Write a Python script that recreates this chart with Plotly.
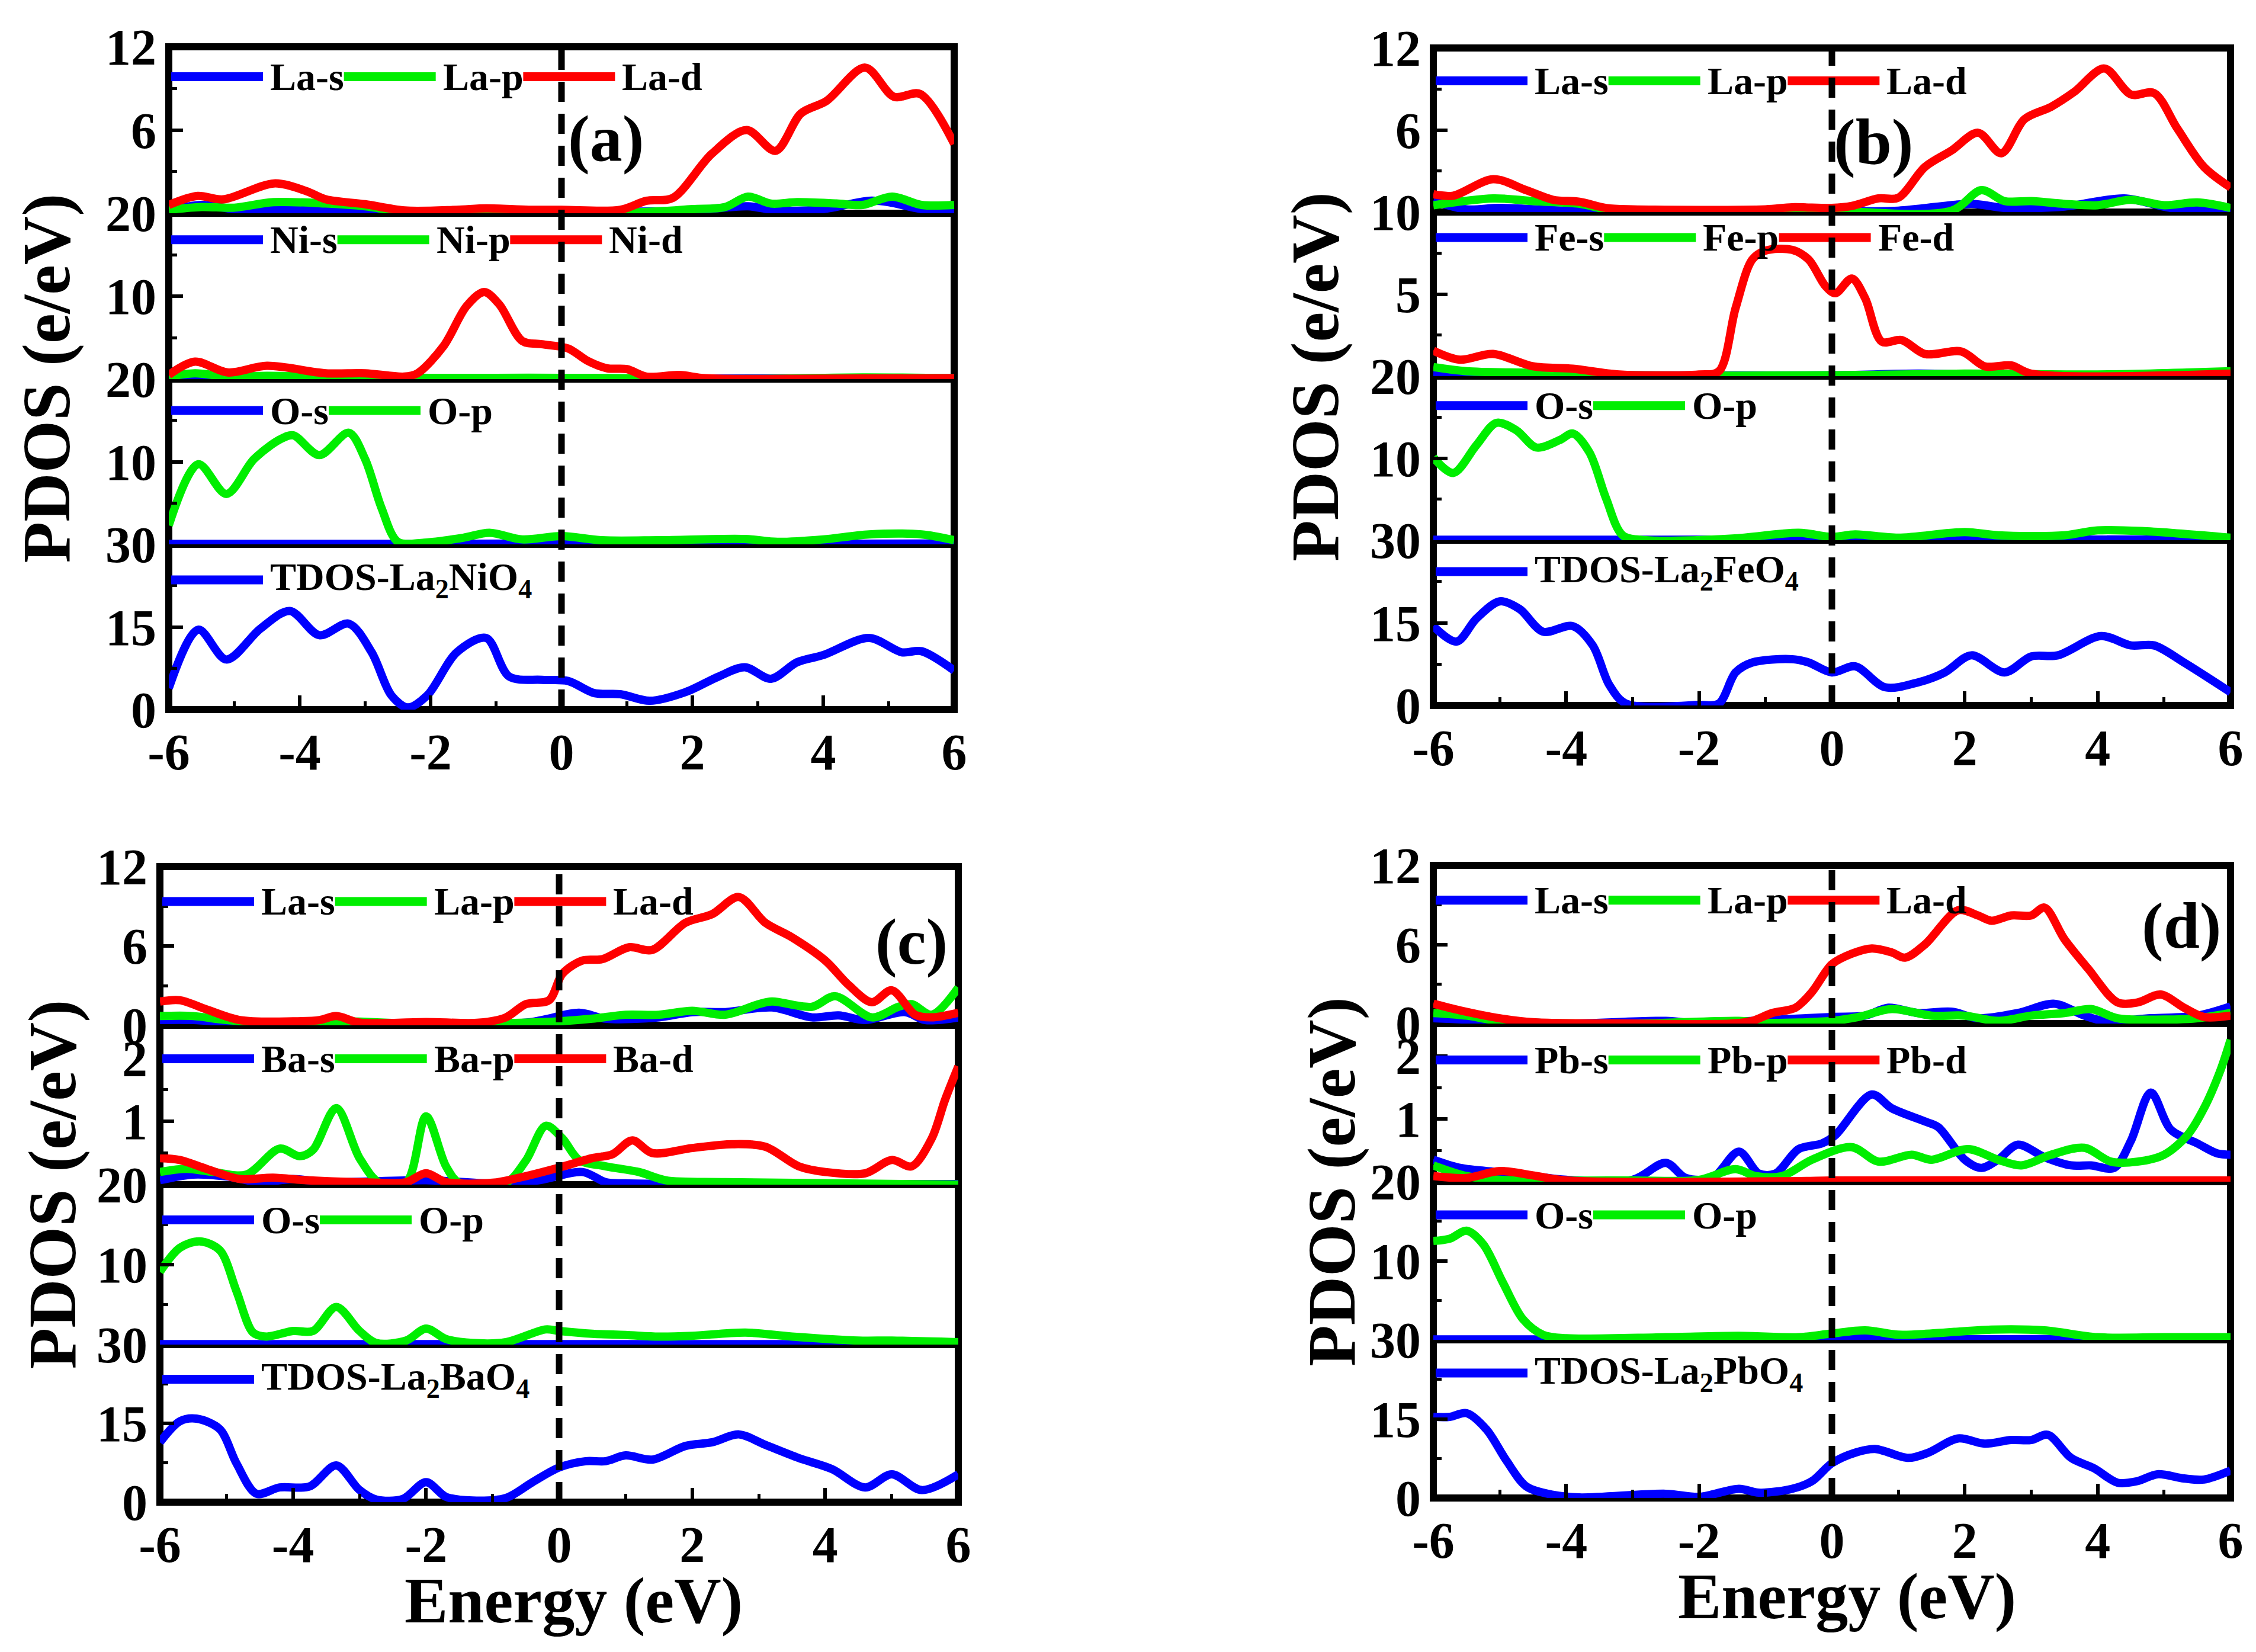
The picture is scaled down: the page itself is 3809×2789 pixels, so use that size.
import plotly.graph_objects as go

W, H = 3809, 2789
BLUE, GREEN, RED = "#0000FF", "#00EE00", "#FF0000"
FONT = "Liberation Serif"

X_TICKS = [-6, -4, -2, 0, 2, 4, 6]
X_MINOR = [-5, -3, -1, 1, 3, 5]

# ---------------- Panel (a) La2NiO4 ----------------
A_LA_S_X = [-6, -5.5, -5, -4.4, -3.5, -3, -2, 0, 1, 2, 2.85, 3.3, 4, 4.7, 5.0, 5.5, 6]
A_LA_S_Y = [0.2, 0.6, 0.3, 0.3, 0.2, 0.1, 0.05, 0.05, 0.1, 0.2, 0.5, 0.2, 0.3, 0.9, 0.8, 0.3, 0.2]
A_LA_P_X = [-6, -5.5, -5, -4.4, -3.6, -3.0, -2.4, -1, 0, 1.3, 2.0, 2.5, 2.85, 3.2, 3.6, 4.2, 4.6, 5.05, 5.5, 6]
A_LA_P_Y = [0.25, 0.45, 0.4, 0.8, 0.7, 0.5, 0.1, 0.05, 0.05, 0.1, 0.3, 0.45, 1.2, 0.7, 0.8, 0.7, 0.6, 1.2, 0.6, 0.6]
A_LA_D_X = [-6, -5.56, -5.17, -4.39, -3.9, -3.6, -3.0, -2.4, -1.6, -1.15, -0.5, 0, 0.9, 1.3, 1.7, 2.3, 2.83, 3.27, 3.66, 4.05, 4.64, 5.08, 5.48, 6]
A_LA_D_Y = [0.6, 1.25, 1.0, 2.15, 1.6, 1.0, 0.65, 0.2, 0.25, 0.35, 0.25, 0.25, 0.25, 0.9, 1.1, 4.3, 6.0, 4.5, 7.2, 8.1, 10.5, 8.4, 8.6, 5.0]
A_NI_S_X = [-6, -4, -2, 0, 2, 4, 6]
A_NI_S_Y = [0.1, 0.1, 0.05, 0.1, 0.05, 0.1, 0.1]
A_NI_P_X = [-6, -5.6, -5.1, -4.5, -3, -2, -1, 0, 1, 1.3, 3, 4.6, 6]
A_NI_P_Y = [0.3, 0.7, 0.3, 0.4, 0.2, 0.15, 0.15, 0.15, 0.1, 0.02, 0.02, 0.2, 0.1]
A_NI_D_X = [-6, -5.6, -5.1, -4.5, -3.6, -3.0, -2.4, -2.2, -1.8, -1.45, -1.18, -0.95, -0.6, -0.3, 0.1, 0.4, 0.7, 1.0, 1.3, 1.8, 2.2, 4, 6]
A_NI_D_Y = [0.5, 2.1, 0.8, 1.6, 0.7, 0.7, 0.3, 0.7, 4.0, 8.8, 10.5, 9.0, 4.6, 4.2, 3.7, 2.2, 1.3, 1.2, 0.3, 0.5, 0.1, 0.05, 0.1]
A_O_S_X = [-6, -3, 0, 3, 6]
A_O_S_Y = [0.05, 0.05, 0.1, 0.05, 0.1]
A_O_P_X = [-6, -5.55, -5.12, -4.7, -4.3, -4.1, -3.7, -3.25, -3.0, -2.75, -2.5, -2.1, -1.5, -1.1, -0.6, 0, 0.6, 1.5, 2.8, 3.3, 4.0, 4.7, 5.5, 6]
A_O_P_Y = [2.3, 9.7, 6.1, 10.3, 12.7, 13.2, 10.8, 13.5, 10.3, 4.4, 0.3, 0.2, 0.8, 1.4, 0.6, 1.0, 0.5, 0.5, 0.65, 0.3, 0.6, 1.2, 1.2, 0.5]
A_TDOS_X = [-6, -5.55, -5.12, -4.6, -4.15, -3.7, -3.25, -2.9, -2.6, -2.35, -2.05, -1.6, -1.15, -0.8, -0.3, 0.1, 0.5, 0.9, 1.35, 1.9, 2.4, 2.8, 3.2, 3.6, 4.0, 4.7, 5.2, 5.5, 6]
A_TDOS_Y = [3.9, 14.5, 9.1, 14.7, 17.9, 13.5, 15.6, 10.4, 2.6, 0.4, 2.6, 10.4, 13.0, 6.0, 5.4, 5.2, 3.0, 2.8, 1.6, 3.2, 6.0, 7.7, 5.6, 8.6, 9.9, 13.0, 10.4, 10.6, 7.1]

# ---------------- Panel (b) La2FeO4 ----------------
B_LA_S_X = [-6, -5.5, -5, -4, -3, -1, 0, 1, 2.1, 2.6, 3.5, 4.4, 5.1, 5.6, 6]
B_LA_S_Y = [0.8, 0.2, 0.3, 0.1, 0.05, 0.05, 0.05, 0.1, 0.6, 0.3, 0.4, 1.0, 0.3, 0.3, 0.1]
B_LA_P_X = [-6, -5.1, -4.5, -3.8, -3.4, -3, 0, 1.8, 2.25, 2.6, 3.0, 3.5, 4.0, 4.5, 5.0, 5.5, 6]
B_LA_P_Y = [0.5, 1.0, 0.8, 0.6, 0.2, 0.05, 0.05, 0.1, 1.6, 0.8, 0.8, 0.6, 0.5, 0.9, 0.5, 0.7, 0.3]
B_LA_D_X = [-6, -5.7, -5.1, -4.6, -4.2, -3.8, -3.4, -3.0, -1.0, -0.6, 0, 0.3, 0.7, 1.0, 1.4, 1.8, 2.2, 2.55, 2.9, 3.3, 3.65, 4.1, 4.5, 4.85, 5.2, 5.6, 6]
B_LA_D_Y = [1.3, 1.2, 2.4, 1.6, 0.9, 0.75, 0.3, 0.2, 0.2, 0.35, 0.3, 0.45, 1.0, 1.05, 3.3, 4.5, 5.8, 4.3, 6.8, 7.7, 8.8, 10.5, 8.6, 8.7, 6.1, 3.3, 1.8]
B_FE_S_X = [-6, -5, -3, 0, 1.3, 3, 6]
B_FE_S_Y = [0.2, 0.05, 0.05, 0.05, 0.15, 0.05, 0.05]
B_FE_P_X = [-6, -5.5, -4.5, -3, 0, 2, 4, 6]
B_FE_P_Y = [0.55, 0.3, 0.2, 0.05, 0.05, 0.15, 0.1, 0.3]
B_FE_D_X = [-6, -5.6, -5.1, -4.5, -3.9, -3.2, -2.0, -1.7, -1.45, -1.2, -1.0, -0.6, -0.35, -0.1, 0.05, 0.3, 0.5, 0.75, 1.05, 1.4, 1.95, 2.3, 2.7, 3.0, 6.0]
B_FE_D_Y = [1.55, 1.0, 1.35, 0.6, 0.45, 0.1, 0.1, 0.3, 4.15, 7.1, 7.65, 7.7, 7.1, 5.5, 5.05, 5.95, 4.75, 2.1, 2.2, 1.35, 1.5, 0.6, 0.65, 0.15, 0.15]
B_O_S_X = [-6, -3, 0, 3, 6]
B_O_S_Y = [0.05, 0.05, 0.1, 0.1, 0.05]
B_O_P_X = [-6, -5.7, -5.35, -5.05, -4.75, -4.45, -4.1, -3.9, -3.65, -3.4, -3.15, -2.8, -1.5, -0.5, 0, 0.35, 1.0, 2.0, 2.5, 3.5, 4.0, 4.7, 6.0]
B_O_P_Y = [10.1, 8.2, 11.6, 14.3, 13.4, 11.3, 12.2, 13.0, 10.7, 5.1, 0.6, 0.0, 0.2, 0.9, 0.4, 0.7, 0.3, 1.0, 0.6, 0.6, 1.2, 1.1, 0.3]
B_TDOS_X = [-6, -5.65, -5.35, -5.0, -4.7, -4.35, -3.9, -3.6, -3.35, -3.1, -2.0, -1.7, -1.45, -1.2, -0.6, -0.35, 0, 0.35, 0.8, 1.3, 1.7, 2.1, 2.6, 3.0, 3.4, 4.05, 4.5, 4.85, 5.3, 6.0]
B_TDOS_Y = [14.4, 11.6, 15.8, 18.9, 17.5, 13.4, 14.4, 10.9, 3.7, 0.35, 0.1, 0.35, 6.0, 7.8, 8.4, 7.8, 6.0, 7.1, 3.3, 4.2, 6.0, 9.1, 6.0, 8.9, 9.1, 12.6, 10.9, 10.9, 7.8, 2.4]

# ---------------- Panel (c) La2BaO4 ----------------
C_LA_S_X = [-6, -5.5, -4.5, -0.5, 0.3, 0.7, 1.5, 2.0, 2.5, 3.2, 3.8, 4.2, 4.6, 5.2, 5.5, 6.0]
C_LA_S_Y = [0.4, 0.4, 0.1, 0.2, 0.95, 0.5, 0.6, 1.0, 1.0, 1.35, 0.6, 0.75, 0.4, 1.0, 0.4, 0.6]
C_LA_P_X = [-6, -5.5, -5.0, -4.0, -3.3, -2, -0.5, 0, 0.5, 1.0, 1.5, 2.0, 2.5, 3.0, 3.2, 3.8, 4.15, 4.7, 5.1, 5.3, 5.6, 6.0]
C_LA_P_Y = [0.7, 0.7, 0.4, 0.1, 0.3, 0.1, 0.2, 0.3, 0.5, 0.8, 0.8, 1.1, 0.8, 1.6, 1.8, 1.4, 2.2, 0.6, 1.4, 1.6, 0.8, 2.85]
C_LA_D_X = [-6, -5.7, -5.3, -4.8, -4.0, -3.6, -3.35, -3.0, -2.0, -1.2, -0.8, -0.5, -0.15, 0.05, 0.35, 0.65, 1.05, 1.4, 1.9, 2.3, 2.7, 3.1, 3.5, 4.0, 4.35, 4.7, 5.0, 5.35, 5.6, 6.0]
C_LA_D_Y = [1.8, 1.9, 1.2, 0.4, 0.3, 0.4, 0.7, 0.2, 0.25, 0.2, 0.6, 1.6, 1.9, 3.9, 4.9, 5.0, 5.9, 5.7, 7.75, 8.4, 9.7, 7.75, 6.65, 4.9, 3.06, 1.75, 2.65, 0.8, 0.6, 0.95]
C_BA_S_X = [-6, -5.5, -5.0, -4.5, -4.0, -3.5, -2.0, -1.0, -0.3, 0.35, 0.7, 1.0, 6.0]
C_BA_S_Y = [0.07, 0.16, 0.13, 0.04, 0.09, 0.04, 0.07, 0.02, 0.07, 0.2, 0.04, 0.02, 0.01]
C_BA_P_X = [-6, -5.6, -5.2, -4.7, -4.2, -3.9, -3.7, -3.35, -3.0, -2.7, -2.3, -2.0, -1.7, -1.5, -0.8, -0.5, -0.2, 0.05, 0.3, 0.7, 1.2, 1.6, 2.5, 6.0]
C_BA_P_Y = [0.2, 0.25, 0.2, 0.16, 0.57, 0.45, 0.55, 1.21, 0.42, 0.03, 0.03, 1.08, 0.29, 0.03, 0.03, 0.38, 0.93, 0.73, 0.39, 0.29, 0.2, 0.07, 0.04, 0.0]
C_BA_D_X = [-6, -5.7, -5.3, -4.8, -4.3, -3.8, -3.0, -2.3, -2.0, -1.7, -1.0, -0.6, 0, 0.5, 0.8, 1.1, 1.4, 2.0, 2.6, 3.1, 3.6, 4.0, 4.6, 5.0, 5.3, 5.6, 5.8, 6.0]
C_BA_D_Y = [0.42, 0.39, 0.25, 0.09, 0.11, 0.07, 0.04, 0.04, 0.18, 0.04, 0.03, 0.11, 0.27, 0.42, 0.48, 0.7, 0.5, 0.58, 0.64, 0.6, 0.29, 0.2, 0.18, 0.39, 0.29, 0.73, 1.34, 1.87]
C_O_S_X = [-6, -3, 0, 3, 6]
C_O_S_Y = [0.05, 0.05, 0.05, 0.05, 0.05]
C_O_P_X = [-6, -5.7, -5.4, -5.1, -4.85, -4.6, -4.4, -4.0, -3.7, -3.35, -3.0, -2.75, -2.3, -2.0, -1.7, -1.3, -0.8, -0.2, 0, 0.5, 1.0, 1.5, 2.0, 2.8, 3.5, 4.5, 5.0, 6.0]
C_O_P_Y = [9.1, 12.1, 12.9, 11.8, 6.7, 1.5, 1.0, 1.7, 1.7, 4.7, 1.7, 0.2, 0.5, 2.0, 0.7, 0.2, 0.3, 1.9, 1.7, 1.35, 1.2, 1.0, 1.1, 1.5, 1.0, 0.5, 0.5, 0.3]
C_TDOS_X = [-6, -5.7, -5.45, -5.1, -4.85, -4.55, -4.2, -3.75, -3.35, -3.0, -2.75, -2.35, -2.0, -1.7, -1.3, -0.8, -0.4, 0.0, 0.4, 0.7, 1.0, 1.4, 1.9, 2.3, 2.7, 3.1, 3.6, 4.1, 4.6, 5.0, 5.45, 6.0]
C_TDOS_Y = [11.4, 15.4, 15.9, 13.9, 7.4, 1.6, 2.8, 3.0, 7.0, 2.3, 0.5, 0.6, 3.8, 1.0, 0.3, 0.8, 3.8, 6.6, 7.8, 7.8, 8.9, 8.1, 10.7, 11.4, 12.9, 10.9, 8.4, 6.3, 2.8, 5.3, 2.3, 5.3]

# ---------------- Panel (d) La2PbO4 ----------------
D_LA_S_X = [-6, -5, -4, -2.5, -2, -1.4, 0, 0.5, 0.85, 1.3, 1.8, 2.2, 2.8, 3.35, 3.8, 4.1, 4.8, 5.5, 6.0]
D_LA_S_Y = [0.4, 0.2, 0.0, 0.2, 0.0, 0.15, 0.5, 0.6, 1.2, 0.8, 0.9, 0.4, 0.8, 1.5, 0.6, 0.2, 0.4, 0.6, 1.3]
D_LA_P_X = [-6, -5.5, -5, -3, -1.4, -1, 0, 0.4, 0.9, 1.5, 2.0, 2.5, 3.0, 3.5, 3.9, 4.3, 5.0, 5.5, 6.0]
D_LA_P_Y = [0.8, 0.6, 0.2, 0.0, 0.2, 0.05, 0.2, 0.5, 1.1, 0.6, 0.6, 0.2, 0.6, 0.8, 1.1, 0.4, 0.3, 0.4, 0.8]
D_LA_D_X = [-6, -5.6, -5.0, -4.5, -3, -1.5, -1.2, -0.9, -0.55, -0.3, 0, 0.3, 0.6, 0.9, 1.1, 1.4, 1.9, 2.2, 2.4, 2.7, 3.0, 3.2, 3.5, 3.85, 4.3, 4.6, 4.95, 5.3, 5.6, 6.0]
D_LA_D_Y = [1.5, 1.0, 0.4, 0.1, 0.0, 0.0, 0.2, 0.8, 1.2, 2.4, 4.5, 5.3, 5.7, 5.4, 5.0, 6.0, 8.6, 8.2, 7.8, 8.2, 8.2, 8.8, 6.4, 4.2, 1.6, 1.6, 2.2, 1.2, 0.5, 0.6]
D_PB_S_X = [-6, -5.6, -5.0, -4.5, -4.0, -3.0, -2.5, -2.2, -1.8, -1.4, -1.1, -0.85, -0.5, -0.15, 0.05, 0.6, 0.9, 1.4, 1.6, 2.0, 2.25, 2.5, 2.8, 3.2, 3.6, 3.9, 4.25, 4.5, 4.8, 5.1, 5.5, 5.8, 6.0]
D_PB_S_Y = [0.35, 0.22, 0.15, 0.09, 0.03, 0.03, 0.30, 0.06, 0.06, 0.48, 0.13, 0.13, 0.52, 0.61, 0.74, 1.39, 1.17, 0.96, 0.87, 0.35, 0.22, 0.35, 0.59, 0.39, 0.26, 0.26, 0.22, 0.65, 1.42, 0.83, 0.61, 0.45, 0.43]
D_PB_P_X = [-6, -5.5, -5, -3, -2, -1.45, -1.15, -0.75, -0.3, 0.3, 0.7, 1.2, 1.5, 2.05, 2.5, 2.85, 3.3, 3.8, 4.2, 4.6, 5.0, 5.35, 5.6, 5.85, 6.0]
D_PB_P_Y = [0.26, 0.09, 0.03, 0.02, 0.03, 0.2, 0.09, 0.09, 0.35, 0.55, 0.32, 0.43, 0.35, 0.52, 0.35, 0.26, 0.43, 0.54, 0.32, 0.32, 0.43, 0.74, 1.17, 1.78, 2.26]
D_PB_D_X = [-6, -5.5, -5.0, -4.5, -4.0, -0.5, 0, 3, 6]
D_PB_D_Y = [0.09, 0.06, 0.17, 0.1, 0.02, 0.01, 0.02, 0.02, 0.02]
D_O_S_X = [-6, -2, 0, 0.5, 1, 3, 6]
D_O_S_Y = [0.05, 0.05, 0.1, 0.3, 0.1, 0.1, 0.05]
D_O_P_X = [-6, -5.75, -5.5, -5.25, -4.95, -4.65, -4.35, -4.0, -2.5, -1.4, -0.5, 0, 0.5, 1.0, 1.5, 2.4, 3.2, 4.0, 5.0, 6.0]
D_O_P_Y = [12.5, 12.8, 13.8, 12.1, 7.2, 2.6, 0.65, 0.2, 0.33, 0.5, 0.33, 0.8, 1.2, 0.65, 0.8, 1.3, 1.2, 0.33, 0.33, 0.33]
D_TDOS_X = [-6, -5.75, -5.5, -5.2, -4.9, -4.6, -4.2, -3.8, -2.5, -2.0, -1.4, -1.1, -0.6, -0.3, 0.0, 0.35, 0.65, 1.15, 1.45, 1.9, 2.3, 2.7, 3.0, 3.25, 3.6, 3.95, 4.3, 4.6, 4.9, 5.3, 5.6, 6.0]
D_TDOS_Y = [15.4, 15.4, 16.1, 13.0, 7.1, 2.2, 0.6, 0.1, 0.8, 0.2, 1.75, 1.0, 1.75, 3.2, 6.6, 8.6, 9.3, 7.6, 8.6, 11.3, 10.3, 11.0, 11.0, 12.0, 7.6, 5.6, 2.9, 3.2, 4.5, 3.7, 3.5, 5.2]

# ---------------- Axis / legend text ----------------
PANEL_LABELS = ["(a)", "(b)", "(c)", "(d)"]
Y_TITLE = "PDOS (e/eV)"
X_TITLE = "Energy (eV)"

ROW_AXES = {
    "La": dict(rng=[0, 12], tv=[0, 6, 12], mv=[3, 9]),
    "M20": dict(rng=[0, 20], tv=[0, 10, 20], mv=[5, 15]),
    "M10": dict(rng=[0, 10], tv=[0, 5, 10], mv=[2.5, 7.5]),
    "Msmall": dict(rng=[0, 2.52], tv=[0, 1, 2], mv=[0.5, 1.5]),
    "O": dict(rng=[0, 20], tv=[0, 10, 20], mv=[5, 15]),
    "T": dict(rng=[0, 30], tv=[0, 15, 30], mv=[7.5, 22.5]),
}

# x-extent and row edges (pixels)
PANELS = [
    dict(xs=(277, 1603), ys=(71, 352, 632, 911, 1190), label_xy=(0.68, 5.4),
         legend_f=[0.18, 0.16, 0.19, 0.215], ytitle_x=70, xtitle=False,
         rows=[
             ("La", [("La-s", BLUE, A_LA_S_X, A_LA_S_Y), ("La-p", GREEN, A_LA_P_X, A_LA_P_Y), ("La-d", RED, A_LA_D_X, A_LA_D_Y)]),
             ("M20", [("Ni-s", BLUE, A_NI_S_X, A_NI_S_Y), ("Ni-p", GREEN, A_NI_P_X, A_NI_P_Y), ("Ni-d", RED, A_NI_D_X, A_NI_D_Y)]),
             ("O", [("O-s", BLUE, A_O_S_X, A_O_S_Y), ("O-p", GREEN, A_O_P_X, A_O_P_Y)]),
             ("T", [("TDOS-La<sub>2</sub>NiO<sub>4</sub>", BLUE, A_TDOS_X, A_TDOS_Y)]),
         ]),
    dict(xs=(2412, 3758), ys=(73, 350, 627, 904, 1183), label_xy=(0.62, 5.1),
         legend_f=[0.2, 0.155, 0.18, 0.19], ytitle_x=2213, xtitle=False,
         rows=[
             ("La", [("La-s", BLUE, B_LA_S_X, B_LA_S_Y), ("La-p", GREEN, B_LA_P_X, B_LA_P_Y), ("La-d", RED, B_LA_D_X, B_LA_D_Y)]),
             ("M10", [("Fe-s", BLUE, B_FE_S_X, B_FE_S_Y), ("Fe-p", GREEN, B_FE_P_X, B_FE_P_Y), ("Fe-d", RED, B_FE_D_X, B_FE_D_Y)]),
             ("O", [("O-s", BLUE, B_O_S_X, B_O_S_Y), ("O-p", GREEN, B_O_P_X, B_O_P_Y)]),
             ("T", [("TDOS-La<sub>2</sub>FeO<sub>4</sub>", BLUE, B_TDOS_X, B_TDOS_Y)]),
         ]),
    dict(xs=(262, 1610), ys=(1455, 1723, 1992, 2262, 2528), label_xy=(5.3, 6.3),
         legend_f=[0.22, 0.21, 0.22, 0.22], ytitle_x=80, xtitle=True,
         rows=[
             ("La", [("La-s", BLUE, C_LA_S_X, C_LA_S_Y), ("La-p", GREEN, C_LA_P_X, C_LA_P_Y), ("La-d", RED, C_LA_D_X, C_LA_D_Y)]),
             ("Msmall", [("Ba-s", BLUE, C_BA_S_X, C_BA_S_Y), ("Ba-p", GREEN, C_BA_P_X, C_BA_P_Y), ("Ba-d", RED, C_BA_D_X, C_BA_D_Y)]),
             ("O", [("O-s", BLUE, C_O_S_X, C_O_S_Y), ("O-p", GREEN, C_O_P_X, C_O_P_Y)]),
             ("T", [("TDOS-La<sub>2</sub>BaO<sub>4</sub>", BLUE, C_TDOS_X, C_TDOS_Y)]),
         ]),
    dict(xs=(2412, 3758), ys=(1453, 1720, 1987, 2254, 2521), label_xy=(5.26, 7.4),
         legend_f=[0.22, 0.23, 0.21, 0.21], ytitle_x=2240, xtitle=True,
         rows=[
             ("La", [("La-s", BLUE, D_LA_S_X, D_LA_S_Y), ("La-p", GREEN, D_LA_P_X, D_LA_P_Y), ("La-d", RED, D_LA_D_X, D_LA_D_Y)]),
             ("Msmall", [("Pb-s", BLUE, D_PB_S_X, D_PB_S_Y), ("Pb-p", GREEN, D_PB_P_X, D_PB_P_Y), ("Pb-d", RED, D_PB_D_X, D_PB_D_Y)]),
             ("O", [("O-s", BLUE, D_O_S_X, D_O_S_Y), ("O-p", GREEN, D_O_P_X, D_O_P_Y)]),
             ("T", [("TDOS-La<sub>2</sub>PbO<sub>4</sub>", BLUE, D_TDOS_X, D_TDOS_Y)]),
         ]),
]

# Times/Liberation Serif Bold advance widths (em)
CHAR_W = {'L': .667, 'a': .5, '-': .333, 's': .389, 'p': .556, 'd': .556, 'N': .722, 'i': .278,
          'F': .611, 'e': .444, 'O': .778, 'B': .667, 'P': .611, 'b': .556}

TICK_FS = 86
LEG_FS = 66
TITLE_FS = 114
XTITLE_FS = 110
LABEL_FS = 110
LINE_W = 14
BORDER_W = 12
SWATCH_LEN = 155


def px_x(x):
    return x / W


def px_y(y):
    return 1 - y / H


def text_w(s, fs):
    return sum(CHAR_W.get(c, 0.5) for c in s) * fs


def fmt(v):
    return str(int(v)) if float(v).is_integer() else str(v)


fig = go.Figure()
layout = dict(width=W, height=H, autosize=False,
              margin=dict(l=0, r=0, t=0, b=0, pad=0, autoexpand=False),
              paper_bgcolor="white", plot_bgcolor="rgba(0,0,0,0)", showlegend=False)
shapes, annotations = [], []
tickfont = dict(family=FONT, size=TICK_FS, color="black", weight="bold")

k = 0
for p, panel in enumerate(PANELS):
    L, R = panel["xs"]
    edges = panel["ys"]
    T, B = edges[0], edges[-1]
    rows = panel["rows"]
    top_xref = None
    top_yref = None
    for r, (axkey, series) in enumerate(rows):
        k += 1
        xname = "xaxis" if k == 1 else f"xaxis{k}"
        yname = "yaxis" if k == 1 else f"yaxis{k}"
        xref = "x" if k == 1 else f"x{k}"
        yref = "y" if k == 1 else f"y{k}"
        if r == 0:
            top_xref, top_yref = xref, yref
        rt, rb = edges[r], edges[r + 1]
        bottom = (r == len(rows) - 1)
        ax = ROW_AXES[axkey]
        ticktext = [fmt(v) for v in ax["tv"]]
        # the "0" of this row coincides with the top label of the row below -> printed once
        if not bottom:
            nxt = ROW_AXES[rows[r + 1][0]]
            if nxt["tv"][-1] == nxt["rng"][1]:
                ticktext[0] = ""
        layout[xname] = dict(
            domain=[px_x(L), px_x(R)], anchor=yref, range=[-6, 6], automargin=False,
            showline=False, showgrid=False, zeroline=False,
            ticks="inside" if bottom else "", ticklen=24, tickwidth=6, tickcolor="black",
            tickmode="array", tickvals=X_TICKS, ticktext=[str(v) for v in X_TICKS],
            showticklabels=bottom, tickfont=tickfont, ticklabelstandoff=14,
            minor=dict(ticks="inside" if bottom else "", tickvals=X_MINOR, ticklen=14, tickwidth=5, tickcolor="black"),
        )
        layout[yname] = dict(
            domain=[px_y(rb), px_y(rt)], anchor=xref, range=ax["rng"], automargin=False,
            showline=False, showgrid=False, zeroline=False,
            ticks="inside", ticklen=24, tickwidth=6, tickcolor="black",
            tickmode="array", tickvals=ax["tv"], ticktext=ticktext,
            tickfont=tickfont, ticklabelstandoff=20,
            minor=dict(ticks="inside", tickvals=ax["mv"], ticklen=14, tickwidth=5, tickcolor="black"),
        )
        for name, color, xs, ys in series:
            fig.add_trace(go.Scatter(x=xs, y=ys, mode="lines", name=name, xaxis=xref, yaxis=yref,
                                     line=dict(color=color, width=LINE_W, shape="spline", smoothing=0.9),
                                     hoverinfo="skip"))
        # frame of this subplot (beneath the curves, as in the original)
        shapes.append(dict(type="rect", xref=f"{xref} domain", yref=f"{yref} domain",
                           x0=0, x1=1, y0=0, y1=1, layer="below",
                           line=dict(color="black", width=BORDER_W)))
        # legend row (swatch + text)
        ly = rt + panel["legend_f"][r] * (rb - rt)
        cx = L + 4
        for name, color, xs, ys in series:
            shapes.append(dict(type="line", xref="paper", yref="paper",
                               x0=px_x(cx), x1=px_x(cx + SWATCH_LEN), y0=px_y(ly), y1=px_y(ly),
                               line=dict(color=color, width=15)))
            tx = cx + SWATCH_LEN + 10
            annotations.append(dict(text=name, xref="paper", yref="paper", x=px_x(tx), y=px_y(ly),
                                    xanchor="left", yanchor="middle", showarrow=False,
                                    font=dict(family=FONT, size=LEG_FS, color="black", weight="bold")))
            cx = tx + text_w(name, LEG_FS) + 2
    # dashed Fermi line across the whole panel
    shapes.append(dict(type="line", xref=top_xref, yref="paper", x0=0, x1=0,
                       y0=px_y(B), y1=px_y(T), layer="above",
                       line=dict(color="black", width=11, dash="34px,20px")))
    # panel label
    lx, lyv = panel["label_xy"]
    annotations.append(dict(text=PANEL_LABELS[p], xref=top_xref, yref=top_yref, x=lx, y=lyv,
                            xanchor="center", yanchor="middle", showarrow=False,
                            font=dict(family=FONT, size=LABEL_FS, color="black", weight="bold")))
    # y title
    annotations.append(dict(text=Y_TITLE, xref="paper", yref="paper", x=px_x(panel["ytitle_x"]),
                            y=px_y((T + B) / 2), xanchor="center", yanchor="middle", textangle=-90,
                            showarrow=False,
                            font=dict(family=FONT, size=TITLE_FS, color="black", weight="bold")))
    if panel["xtitle"]:
        annotations.append(dict(text=X_TITLE, xref="paper", yref="paper", x=px_x((L + R) / 2 + 25),
                                y=px_y(B + 166), xanchor="center", yanchor="middle", showarrow=False,
                                font=dict(family=FONT, size=XTITLE_FS, color="black", weight="bold")))

layout["shapes"] = shapes
layout["annotations"] = annotations
fig.update_layout(**layout)
fig.write_html("out.html")
